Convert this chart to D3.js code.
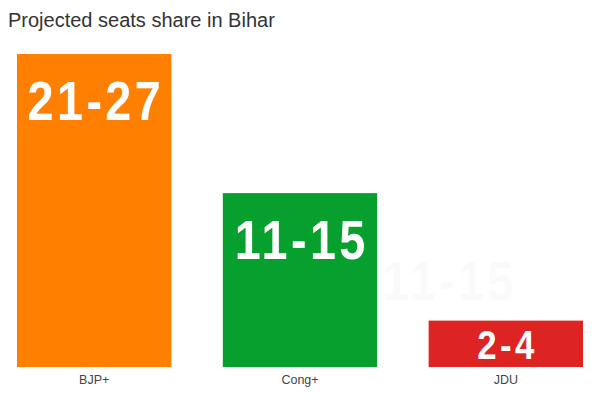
<!DOCTYPE html>
<html>
<head>
<meta charset="utf-8">
<title>Projected seats share in Bihar</title>
<script src="https://cdnjs.cloudflare.com/ajax/libs/d3/7.8.5/d3.min.js"></script>
<style>
  body { margin: 0; background: #fff; }
  svg { display: block; }
  .title { font-family: "Liberation Sans", Arial, sans-serif; font-size: 20px; fill: #333; }
  .cat { font-family: "Liberation Sans", Arial, sans-serif; font-size: 12.5px; fill: #444; }
  .val { font-family: "Liberation Sans", Arial, sans-serif; font-weight: bold; fill: #fff; letter-spacing: 4px; }
</style>
</head>
<body>
<svg id="chart" width="600" height="400"></svg>
<script>
const parties = ['BJP+', 'Cong+', 'JDU']
const seatsLow = [21, 11, 2]
const seatsHigh = [27, 15, 4]
const colors = ['#ff7f00', '#07a02f', '#de2323']

const svg = d3.select('#chart')
const base = 367
const squeeze = 0.85   // fake a condensed bold face
const spacing = 4

const x = d3.scaleBand()
  .domain(parties)
  .range([17, 583])
  .paddingInner(0.25)
  .paddingOuter(0)

const y = d3.scaleLinear()
  .domain([0, 27])
  .range([base, 54])

const label = i => seatsLow[i] + '-' + seatsHigh[i]
const fs = i => seatsHigh[i] > 5 ? 55 : 41
const gap = i => seatsHigh[i] > 5 ? 26 : 8

svg.append('text')
  .attr('class', 'title')
  .attr('x', 8)
  .attr('y', 26.5)
  .text('Projected seats share in Bihar')

// faint ghost of the Cong+ label seen in the picture
svg.append('text')
  .attr('class', 'val')
  .attr('transform', `translate(448,300) scale(${squeeze},1)`)
  .attr('x', spacing / 2)
  .attr('text-anchor', 'middle')
  .style('font-size', fs(1) + 'px')
  .style('fill', '#fafafa')
  .text(label(1))

const g = svg.selectAll('.bar')
  .data(parties)
  .enter()
  .append('g')
  .attr('class', 'bar')

g.append('rect')
  .attr('x', d => x(d))
  .attr('y', (d, i) => y(seatsHigh[i]))
  .attr('width', x.bandwidth())
  .attr('height', (d, i) => base - y(seatsHigh[i]))
  .attr('fill', (d, i) => colors[i])

g.append('text')
  .attr('class', 'val')
  .attr('transform', (d, i) =>
    `translate(${x(d) + x.bandwidth() / 2},${y(seatsHigh[i]) + gap(i) + fs(i) * 0.729}) scale(${squeeze},1)`)
  .attr('x', spacing / 2)
  .attr('text-anchor', 'middle')
  .style('font-size', (d, i) => fs(i) + 'px')
  .text((d, i) => label(i))

g.append('text')
  .attr('class', 'cat')
  .attr('x', d => x(d) + x.bandwidth() / 2)
  .attr('y', base + 16.5)
  .attr('text-anchor', 'middle')
  .text(d => d)
</script>
</body>
</html>
